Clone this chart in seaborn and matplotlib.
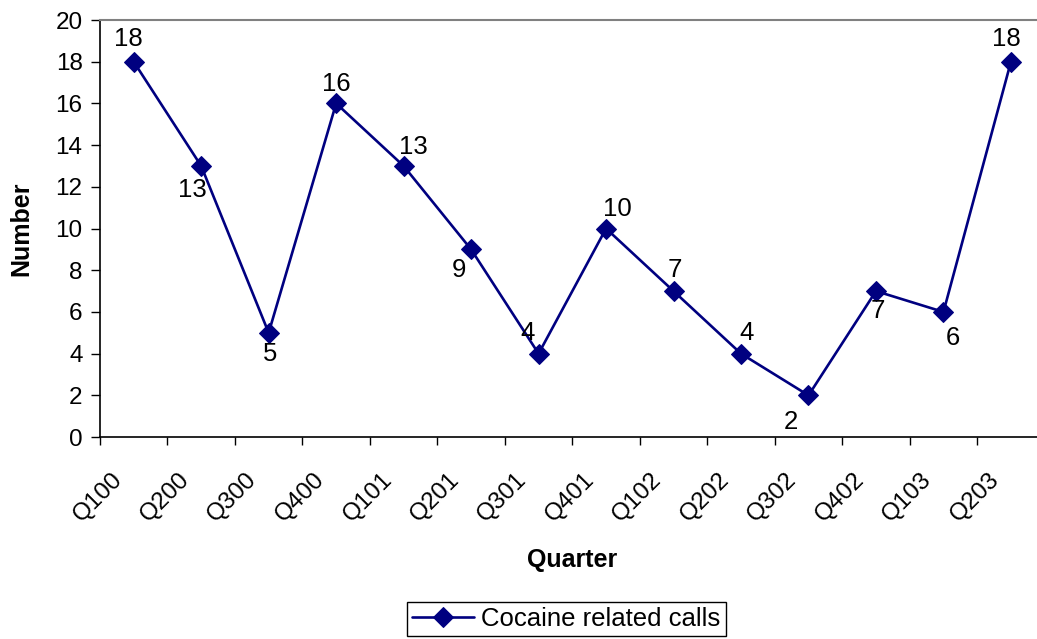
import pandas as pd
import matplotlib
matplotlib.use("Agg")
import matplotlib.pyplot as plt
import matplotlib.transforms as mtransforms
import seaborn as sns

quarters = ["Q100", "Q200", "Q300", "Q400", "Q101", "Q201", "Q301",
            "Q401", "Q102", "Q202", "Q302", "Q402", "Q103", "Q203"]
calls = [18, 13, 5, 16, 13, 9, 4, 10, 7, 4, 2, 7, 6, 18]
# where each value label sits relative to its point (dx, dy in points)
label_offsets = [(-4, 16), (-6, -17), (1, -15), (0, 14), (7, 14), (-9, -15), (-8, 15),
                 (8, 14), (1, 15), (4, 15), (-13, -19), (1, -14), (7, -19), (-3, 16)]

df = pd.DataFrame({"Quarter": quarters, "Number": calls})
df["pos"] = range(len(quarters))

sns.set_theme(style="white")
plt.rcParams['font.family'] = ['Liberation Sans', 'DejaVu Sans']
plt.rcParams.update({"text.color": "black", "axes.labelcolor": "black",
                     "xtick.color": "black", "ytick.color": "black"})

fig = plt.figure(figsize=(10.37, 6.39), dpi=100)
ax = fig.add_axes([0.0964, 0.316, 0.911, 0.6527])

navy = "#000080"
sns.lineplot(data=df, x="pos", y="Number", ax=ax, color=navy, linewidth=1.9,
             marker="D", markersize=10, markeredgecolor=navy,
             label="Cocaine related calls")

for i, (v, (dx, dy)) in enumerate(zip(calls, label_offsets)):
    ax.annotate(str(v), (i, v), xytext=(dx, dy), textcoords="offset points",
                ha="center", va="center", fontsize=18.5, color="black")

ax.set_xlim(-0.5, len(quarters) - 0.5)
ax.set_ylim(0, 20)
ax.set_yticks(range(0, 21, 2))
ax.tick_params(axis="y", labelsize=17.5, length=6.5, width=1, color="black",
               labelcolor="black", direction="out", left=True, pad=6)

# ticks between categories, labels at category centres
ax.set_xticks([i - 0.5 for i in range(len(quarters))])
ax.set_xticklabels([])
ax.set_xticks(range(len(quarters)), minor=True)
ax.set_xticklabels(quarters, minor=True, rotation=45, ha="right", va="center",
                   rotation_mode="anchor", fontsize=17.5, color="black")
ax.tick_params(axis="x", which="major", length=6, width=1, color="black",
               direction="out", bottom=True)
ax.tick_params(axis="x", which="minor", length=0, pad=28)
shift = mtransforms.ScaledTranslation(-0.15, 0, fig.dpi_scale_trans)
for lab in ax.get_xticklabels(minor=True):
    lab.set_transform(lab.get_transform() + shift)

ax.set_xlabel("Quarter", fontsize=18, fontweight="bold", color="black")
ax.xaxis.set_label_coords(0.5, -0.266)
ax.set_ylabel("Number", fontsize=18, fontweight="bold", color="black")
ax.yaxis.set_label_coords(-0.071, 0.5)

for s in ["left", "bottom"]:
    ax.spines[s].set_color("black")
    ax.spines[s].set_linewidth(1.2)
ax.spines["top"].set_color("#808080")
ax.spines["top"].set_linewidth(1.5)
ax.spines["right"].set_visible(False)
ax.grid(False)

leg = ax.legend(loc="upper center", bbox_to_anchor=(0.546, 0.058),
                bbox_transform=fig.transFigure, fontsize=18.5,
                frameon=True, fancybox=False, edgecolor="black", framealpha=1,
                handlelength=2.4, borderpad=0.2, handletextpad=0.3, borderaxespad=0)
for t in leg.get_texts():
    t.set_color("black")

fig.savefig("out.png", dpi=100)
